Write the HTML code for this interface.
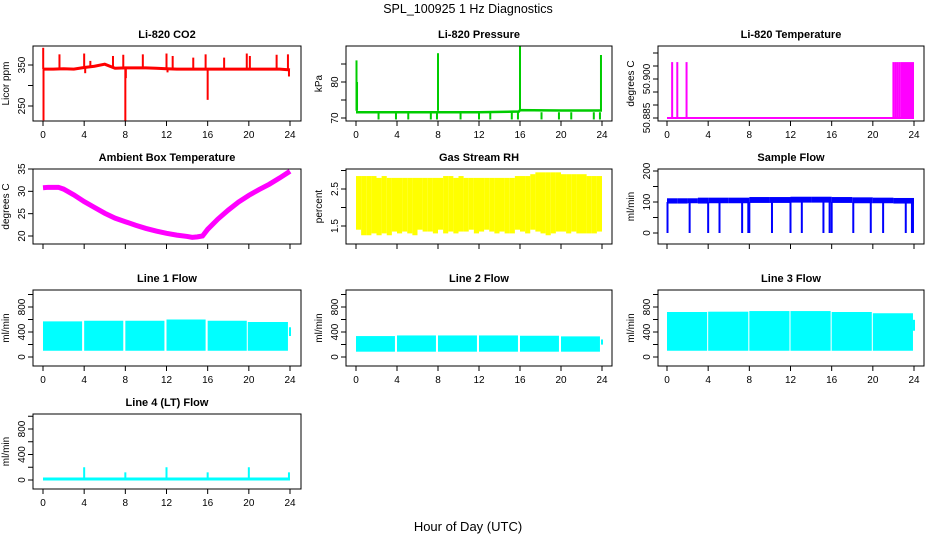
<!DOCTYPE html>
<html><head><meta charset="utf-8"><style>
body{margin:0;background:#fff;}
svg{display:block;font-family:"Liberation Sans",sans-serif;}
.pt{font-weight:bold;font-size:11px;}
.tk{font-size:10px;}
</style></head><body>
<svg id="chart" width="936" height="540" viewBox="0 0 936 540">
<text x="468" y="13" text-anchor="middle" font-size="12.5">SPL_100925  1 Hz Diagnostics</text>
<text x="468" y="531" text-anchor="middle" font-size="13">Hour of Day (UTC)</text>
</svg>
<script>
// ---- data arrays ----
const xTicks = [0,4,8,12,16,20,24];
const co2Hours = [0,1,2,3,4,5,6,7,8,9,10,11,12,13,14,15,16,17,18,19,20,21,22,23,24];
const co2Base = [340,340,341,340,344,347,352,342,343,343,343,342,341,340,340,340,340,340,340,340,340,340,340,340,338];
const co2SpikeHours = [0.02,0.05,1.6,4.0,4.1,4.6,6.8,7.8,8.0,8.05,9.7,12.0,12.1,12.6,14.6,15.8,16.0,17.6,19.8,20.1,22.7,23.8,23.9];
const co2SpikeVals = [392,215,376,378,330,360,372,375,205,318,376,378,332,372,368,376,265,368,378,372,375,376,322];
const presHours = [0,4,8,12,15.9,16,20,24];
const presBase = [71.6,71.6,71.6,71.6,71.8,72.2,72.1,72.1];
const presSpikeHours = [0.05,0.1,8.0,16.0,23.9];
const presSpikeVals = [86,80,88,90,87.5];
const presDipHours = [2.2,3.9,5.1,7.3,7.9,10.2,12.0,13.1,15.2,15.8,18.1,19.8,21.0,23.2,23.8];
const presDipVals = [69.6,69.6,69.6,69.6,69.6,69.6,69.6,69.6,69.6,69.6,69.6,69.6,69.6,69.6,69.6];
const ltempBase = 50.885;
const ltempSpikeHours = [0.5,1.0,1.9,22.0,22.2,22.4,22.6];
const ltempSpikeVals = [50.9065,50.9065,50.9065,50.9065,50.9065,50.9065,50.9065];
const ltempBandStart = [22.7];
const ltempBandEnd = [24.0];
const ltempBandHi = [50.9065];
const ambHours = [0,0.5,1,1.5,2,3,4,5,6,7,8,9,10,11,12,13,14,14.5,15,15.5,16,17,18,19,20,21,22,23,24];
const ambVals = [30.8,30.9,30.9,30.9,30.5,29.2,27.7,26.4,25.1,24.0,23.2,22.4,21.7,21.1,20.6,20.2,19.9,19.7,19.8,20.0,21.5,23.8,25.8,27.6,29.1,30.4,31.6,33.0,34.5];
const rhBinHours = [0,0.5,1,1.5,2,2.5,3,3.5,4,4.5,5,5.5,6,6.5,7,7.5,8,8.5,9,9.5,10,10.5,11,11.5,12,12.5,13,13.5,14,14.5,15,15.5,16,16.5,17,17.5,18,18.5,19,19.5,20,20.5,21,21.5,22,22.5,23,23.5];
const rhLo = [1.4,1.25,1.25,1.3,1.25,1.3,1.25,1.35,1.3,1.35,1.3,1.25,1.4,1.35,1.35,1.3,1.4,1.3,1.35,1.3,1.35,1.35,1.4,1.3,1.35,1.4,1.35,1.3,1.35,1.3,1.3,1.4,1.35,1.3,1.4,1.35,1.3,1.25,1.3,1.35,1.35,1.3,1.35,1.3,1.3,1.3,1.3,1.35];
const rhHi = [2.85,2.85,2.85,2.85,2.8,2.85,2.8,2.8,2.8,2.8,2.8,2.8,2.8,2.8,2.8,2.8,2.8,2.85,2.85,2.8,2.85,2.8,2.8,2.8,2.8,2.8,2.8,2.8,2.8,2.8,2.8,2.85,2.85,2.85,2.9,2.95,2.95,2.95,2.95,2.95,2.9,2.9,2.9,2.9,2.9,2.85,2.85,2.85];
const flowHours = [0,1,2,3,4,6,8,10,12,14,16,18,20,22,24];
const flowLo = [95,95,96,95,96,96,97,97,98,98,97,96,96,95,96];
const flowHi = [112,112,112,114,114,114,116,116,117,117,116,115,114,113,112];
const flowDropHours = [0.05,2.2,4.0,5.1,7.3,7.9,8.0,10.2,12.0,13.1,15.2,15.8,16.0,18.1,19.8,21.0,23.2,23.8,23.9];
const line1Start = [0.0,4.0,8.0,12.0,16.0,19.9];
const line1End = [3.8,7.8,11.8,15.8,19.8,23.8];
const line1Hi = [570,580,580,600,580,560];
const line1Lo = [100,100,100,100,100,100];
const line2Start = [0.0,4.0,8.0,12.0,16.0,20.0];
const line2End = [3.8,7.8,11.8,15.8,19.8,23.8];
const line2Hi = [335,345,345,345,340,330];
const line2Lo = [85,85,85,85,85,85];
const line3Start = [0.0,4.0,8.0,12.0,16.0,20.0];
const line3End = [3.9,7.9,11.9,15.9,19.9,23.9];
const line3Hi = [720,725,735,735,720,700];
const line3Lo = [100,100,100,100,100,100];
const line4SpikeHours = [4.0,8.0,12.0,16.0,20.0,23.9];
const line4SpikeVals = [200,120,200,120,200,120];
const line4Base = 15;

// ---- layout ----
const NS="http://www.w3.org/2000/svg";
const svg=document.getElementById('chart');
const cols=[{l:33,r:301,x0:43,x24:290},{l:346,r:612,x0:356,x24:602},{l:658,r:924,x0:667,x24:914}];
const rows=[{t:46,b:121},{t:169,b:244},{t:290,b:366},{t:414,b:489}];
function mk(tag,attrs,parent){const e=document.createElementNS(NS,tag);for(const k in attrs)e.setAttribute(k,attrs[k]);(parent||svg).appendChild(e);return e;}
let clipId=0;
function panel(name,title,ci,ri,ylab,yref,yticks,ylabels){
  const c=cols[ci],r=rows[ri];
  const g=mk('g',{});
  
  
  const xs=h=>c.x0+(c.x24-c.x0)*h/24;
  const ys=v=>yref[1]+(v-yref[0])*(yref[3]-yref[1])/(yref[2]-yref[0]);
  const t=mk('text',{x:(c.l+c.r)/2,y:r.t-8,'text-anchor':'middle',class:'pt'},g);t.textContent=title;
  
  
  const id='cp'+(clipId++);
  const cp=mk('clipPath',{id:id},g);mk('rect',{x:c.l,y:r.t,width:c.r-c.l,height:r.b-r.t},cp);
  const plot=mk('g',{'clip-path':'url(#'+id+')'},g);
  
  
  const box=mk('rect',{x:c.l,y:r.t,width:c.r-c.l,height:r.b-r.t,fill:'none',stroke:'#000','stroke-width':1},g);
  
  
  const xa=mk('g',{},g);
  
  
  mk('line',{x1:xs(xTicks[0]),x2:xs(xTicks[xTicks.length-1]),y1:r.b,y2:r.b,stroke:'#000'},xa);
  xTicks.forEach(h=>{mk('line',{x1:xs(h),x2:xs(h),y1:r.b,y2:r.b+5,stroke:'#000'},xa);
    if(ri!==1){const tt=mk('text',{x:xs(h),y:r.b+17,'text-anchor':'middle',class:'tk'},xa);tt.textContent=h;}});
  const ya=mk('g',{},g);
  
  
  mk('line',{x1:c.l,x2:c.l,y1:ys(yticks[0]),y2:ys(yticks[yticks.length-1]),stroke:'#000'},ya);
  yticks.forEach((v,i)=>{const y=ys(v);mk('line',{x1:c.l-5,x2:c.l,y1:y,y2:y,stroke:'#000'},ya);
    if(ylabels[i]!==''){const tt=mk('text',{x:c.l-8,y:y,'text-anchor':'middle',class:'tk',transform:`rotate(-90 ${c.l-8} ${y})`},ya);tt.textContent=ylabels[i];}});
  const yl=mk('text',{x:c.l-24,y:(r.t+r.b)/2,'text-anchor':'middle',class:'tk',transform:`rotate(-90 ${c.l-24} ${(r.t+r.b)/2})`},g);
  yl.textContent=ylab;
  
  
  return {plot,xs,ys};
}
function vline(p,h,v1,v2,col,w){return mk('line',{x1:p.xs(h),x2:p.xs(h),y1:p.ys(v1),y2:p.ys(v2),stroke:col,'stroke-width':w||1},p.plot);}
function polyl(p,hs,vs,col,w){return mk('polyline',{points:hs.map((h,i)=>p.xs(h)+','+p.ys(vs[i])).join(' '),fill:'none',stroke:col,'stroke-width':w},p.plot);}
function band(p,h1,h2,lo,hi,col){return mk('rect',{x:p.xs(h1),y:p.ys(hi),width:p.xs(h2)-p.xs(h1),height:p.ys(lo)-p.ys(hi),fill:col},p.plot);}

// CO2
let p=panel('co2','Li-820 CO2',0,0,'Licor ppm',[250,106,350,65],[250,300,350],['250','','350']);
polyl(p,co2Hours,co2Base,'#f00',3);
co2SpikeHours.forEach((h,i)=>vline(p,h,co2Base[Math.round(h)],co2SpikeVals[i],'#f00',2));
// Pressure
p=panel('pressure','Li-820 Pressure',1,0,'kPa',[70,118,80,82],[70,75,80,85],['70','','80','']);
polyl(p,presHours,presBase,'#0c0',2.5);
presSpikeHours.forEach((h,i)=>vline(p,h,72,presSpikeVals[i],'#0c0',2));
presDipHours.forEach((h,i)=>vline(p,h,71.6,presDipVals[i],'#0c0',2));
// Li temp
p=panel('li820-temp','Li-820 Temperature',2,0,'degrees C',[50.885,118,50.900,79],[50.885,50.890,50.895,50.900,50.905,50.910],['50.885','','','50.900','','']);
polyl(p,[0,24],[ltempBase,ltempBase],'#f0f',2);
ltempSpikeHours.forEach((h,i)=>vline(p,h,ltempBase,ltempSpikeVals[i],'#f0f',2));
ltempBandStart.forEach((h,i)=>band(p,h,ltempBandEnd[i],ltempBase,ltempBandHi[i],'#f0f'));
// Ambient
p=panel('ambient-temp','Ambient Box Temperature',0,1,'degrees C',[20,236,35,169],[20,25,30,35],['20','25','30','35']);
polyl(p,ambHours,ambVals,'#f0f',5);
// RH
p=panel('gas-rh','Gas Stream RH',1,1,'percent',[1.5,226,2.5,189],[1.5,2.0,2.5,3.0],['1.5','','2.5','']);
rhBinHours.forEach((h,i)=>band(p,h,h+0.5,rhLo[i],rhHi[i],'#ff0'));
// Sample flow
p=panel('sample-flow','Sample Flow',2,1,'ml/min',[0,233,200,171],[0,50,100,150,200],['0','','100','','200']);
flowHours.slice(0,-1).forEach((h,i)=>band(p,h,flowHours[i+1],flowLo[i],flowHi[i],'#00f'));
flowDropHours.forEach(h=>vline(p,h,100,0,'#00f',2));
// Lines 1-3
const lt=[0,200,400,600,800,1000],ll=['0','','400','','800',''];
[[line1Start,line1End,line1Lo,line1Hi,'line1-flow','Line 1 Flow',0],[line2Start,line2End,line2Lo,line2Hi,'line2-flow','Line 2 Flow',1],[line3Start,line3End,line3Lo,line3Hi,'line3-flow','Line 3 Flow',2]].forEach(a=>{
  const q=panel(a[4],a[5],a[6],2,'ml/min',[0,357,800,307],lt,ll);
  a[0].forEach((s,i)=>band(q,s,a[1][i],a[2][i],a[3][i],'#0ff'));
  vline(q,24,a[3][5]*0.6,a[3][5]*0.85,'#0ff',2);
});
// Line 4
p=panel('line4-flow','Line 4 (LT) Flow',0,3,'ml/min',[0,480,800,429],lt,ll);
polyl(p,[0,24],[line4Base,line4Base],'#0ff',3);
line4SpikeHours.forEach((h,i)=>vline(p,h,line4Base,line4SpikeVals[i],'#0ff',2));
</script>
</body></html>
